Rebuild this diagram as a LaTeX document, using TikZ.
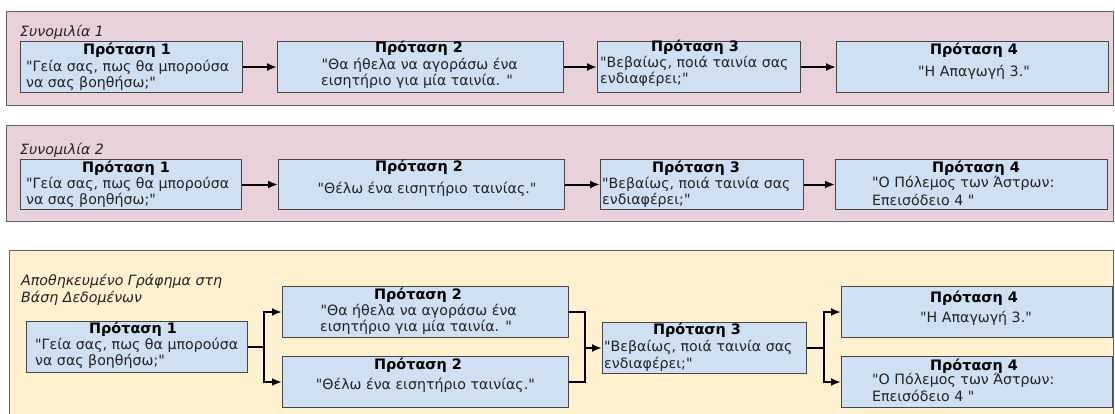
\documentclass[tikz,border=0pt]{standalone}
\usepackage{fontspec}
\setmainfont{DejaVu Sans}[Ligatures=TeXOff]
\usetikzlibrary{arrows.meta,calc}
\definecolor{pinkbg}{RGB}{233,209,220}
\definecolor{yellowbg}{RGB}{255,240,207}
\definecolor{boxfill}{RGB}{206,224,242}
\definecolor{boxline}{RGB}{70,70,70}
\definecolor{panelline}{RGB}{100,100,100}
\definecolor{bodytext}{RGB}{35,35,35}
\tikzset{
  x=1pt, y=-1pt,
  panel/.style={draw=panelline, line width=1pt},
  sbox/.style={draw=boxline, fill=boxfill, line width=1pt, anchor=north west, inner sep=0pt, rectangle},
  ttl/.style={font=\fontsize{14.4}{16}\selectfont\bfseries, inner sep=0pt, anchor=center},
  bodyw/.style={font=\fontsize{14.2}{16}\selectfont, text=bodytext, inner sep=0pt, anchor=west},
  bodye/.style={font=\fontsize{14.2}{16}\selectfont, text=bodytext, inner sep=0pt, anchor=east},
  bodyc/.style={font=\fontsize{14.2}{16}\selectfont, text=bodytext, inner sep=0pt, anchor=center},
  lbl/.style={font=\fontsize{14.2}{16}\selectfont\itshape, text=bodytext, inner sep=0pt, anchor=west},
  conn/.style={line width=2pt, black},
  arr/.style={conn, -{Latex[length=10pt,width=8pt]}}
}
\begin{document}
\begin{tikzpicture}
\useasboundingbox (0,0) rectangle (1115,414);
% panels
\path[panel, fill=pinkbg] (6,12) rectangle (1113,106);
\path[panel, fill=pinkbg] (6,126) rectangle (1113,221);
\path[panel, fill=yellowbg] (9,250) rectangle (1113,420);

% ---------- Panel 1 ----------
\node[lbl] (l1) at (20,32) {Συνομιλία 1};
\node[sbox, minimum width=222pt, minimum height=51pt] (a1) at (20,41) {};
\node[sbox, minimum width=286pt, minimum height=51pt] (a2) at (277,41) {};
\node[sbox, minimum width=203pt, minimum height=51pt] (a3) at (597,41) {};
\node[sbox, minimum width=272pt, minimum height=51pt] (a4) at (836,41) {};
\node[ttl] (a1t) at (127,50) {Πρόταση 1};
\node[bodyw] (a1b1) at (26,67) {"Γεία σας, πως θα μπορούσα};
\node[bodyw] (a1b2) at (26,83) {να σας βοηθήσω;"};
\node[ttl] (a2t) at (419,48) {Πρόταση 2};
\node[bodye] (a2b1) at (518,65) {"Θα ήθελα να αγοράσω ένα};
\node[bodye] (a2b2) at (513,81) {εισητήριο για μία ταινία. "};
\node[ttl] (a3t) at (695,47) {Πρόταση 3};
\node[bodyw] (a3b1) at (600,63) {"Βεβαίως, ποιά ταινία σας};
\node[bodyw] (a3b2) at (600,79) {ενδιαφέρει;"};
\node[ttl] (a4t) at (974,50) {Πρόταση 4};
\node[bodyc] (a4b1) at (974,72) {"Η Απαγωγή 3."};
\draw[arr] (a1.east) -- (a2.west);
\draw[arr] (a2.east) -- (a3.west);
\draw[arr] (a3.east) -- (a4.west);

% ---------- Panel 2 ----------
\node[lbl] (l2) at (20,150) {Συνομιλία 2};
\node[sbox, minimum width=221pt, minimum height=50pt] (b1) at (20,159) {};
\node[sbox, minimum width=286pt, minimum height=50pt] (b2) at (278,159) {};
\node[sbox, minimum width=203pt, minimum height=50pt] (b3) at (600,159) {};
\node[sbox, minimum width=272pt, minimum height=50pt] (b4) at (835,159) {};
\node[ttl] (b1t) at (126,168) {Πρόταση 1};
\node[bodyw] (b1b1) at (26,184) {"Γεία σας, πως θα μπορούσα};
\node[bodyw] (b1b2) at (26,200) {να σας βοηθήσω;"};
\node[ttl] (b2t) at (419,167) {Πρόταση 2};
\node[bodyc] (b2b1) at (427,189) {"Θέλω ένα εισητήριο ταινίας."};
\node[ttl] (b3t) at (696,168) {Πρόταση 3};
\node[bodyw] (b3b1) at (602,184) {"Βεβαίως, ποιά ταινία σας};
\node[bodyw] (b3b2) at (602,200) {ενδιαφέρει;"};
\node[ttl] (b4t) at (976,168) {Πρόταση 4};
\node[bodyw] (b4b1) at (872,183) {"Ο Πόλεμος των Άστρων:};
\node[bodyw] (b4b2) at (872,200) {Επεισόδειο 4 "};
\draw[arr] (b1.east) -- (b2.west);
\draw[arr] (b2.east) -- (b3.west);
\draw[arr] (b3.east) -- (b4.west);

% ---------- Panel 3 ----------
\node[lbl] (l3a) at (21,281) {Αποθηκευμένο Γράφημα στη};
\node[lbl] (l3b) at (21,298) {Βάση Δεδομένων};
\node[sbox, minimum width=221pt, minimum height=51pt] (c1) at (26,321) {};
\node[sbox, minimum width=286pt, minimum height=51pt] (c2a) at (282,286) {};
\node[sbox, minimum width=286pt, minimum height=51pt] (c2b) at (282,356) {};
\node[sbox, minimum width=204pt, minimum height=51pt] (c3) at (602,322) {};
\node[sbox, minimum width=271pt, minimum height=51pt] (c4a) at (841,286) {};
\node[sbox, minimum width=271pt, minimum height=51pt] (c4b) at (841,356) {};
\node[ttl] (c1t) at (133,329) {Πρόταση 1};
\node[bodyw] (c1b1) at (35,345) {"Γεία σας, πως θα μπορούσα};
\node[bodyw] (c1b2) at (35,361) {να σας βοηθήσω;"};
\node[ttl] (c2at) at (418,295) {Πρόταση 2};
\node[bodye] (c2ab1) at (517,311) {"Θα ήθελα να αγοράσω ένα};
\node[bodye] (c2ab2) at (512,327) {εισητήριο για μία ταινία. "};
\node[ttl] (c2bt) at (418,365) {Πρόταση 2};
\node[bodye] (c2bb1) at (535,385) {"Θέλω ένα εισητήριο ταινίας."};
\node[ttl] (c3t) at (697,330) {Πρόταση 3};
\node[bodyw] (c3b1) at (604,347) {"Βεβαίως, ποιά ταινία σας};
\node[bodyw] (c3b2) at (604,364) {ενδιαφέρει;"};
\node[ttl] (c4at) at (974,298) {Πρόταση 4};
\node[bodyc] (c4ab1) at (976,318) {"Η Απαγωγή 3."};
\node[ttl] (c4bt) at (974,366) {Πρόταση 4};
\node[bodyw] (c4bb1) at (872,380) {"Ο Πόλεμος των Άστρων:};
\node[bodyw] (c4bb2) at (872,396) {Επεισόδειο 4 "};

\coordinate (j1) at ($(c1.east)+(16,0)$);
\coordinate (j2) at ($(c3.west)+(-17,0)$);
\coordinate (j3) at ($(c3.east)+(17,0)$);
\draw[conn] (c1.east) -- (j1);
\draw[arr] (j1) |- (c2a.west);
\draw[arr] (j1) |- (c2b.west);
\draw[conn] (c2a.east) -| (j2);
\draw[conn] (c2b.east) -| (j2);
\draw[arr] (j2) -- (c3.west);
\draw[conn] (c3.east) -- (j3);
\draw[arr] (j3) |- (c4a.west);
\draw[arr] (j3) |- (c4b.west);
\end{tikzpicture}
\end{document}
